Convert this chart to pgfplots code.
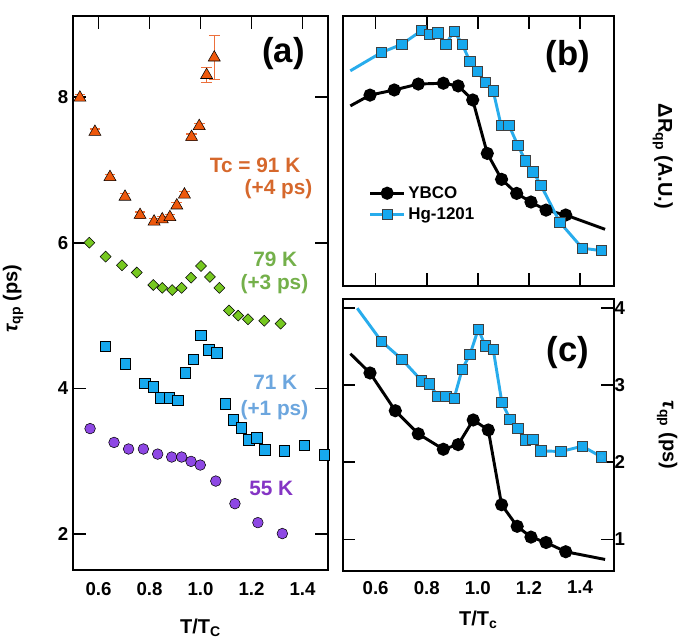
\documentclass[border=0pt]{standalone}
\usepackage{pgfplots}
\pgfplotsset{compat=1.18}
\usepackage{fontspec}
\setmainfont{Liberation Sans}

\definecolor{orM}{RGB}{238,88,12}
\definecolor{orT}{RGB}{214,104,44}
\definecolor{orE}{RGB}{236,112,60}
\definecolor{grM}{RGB}{118,200,32}
\definecolor{grT}{RGB}{116,176,74}
\definecolor{blM}{RGB}{22,168,238}
\definecolor{blT}{RGB}{108,166,222}
\definecolor{puM}{RGB}{142,72,228}
\definecolor{puT}{RGB}{132,52,196}
\definecolor{blL}{RGB}{40,172,236}

\newcommand\lab{\bfseries\fontsize{15.6}{18}\selectfont}

\pgfplotsset{
  every axis/.append style={
    scale only axis, clip=false,
    axis line style={line width=1.3pt},
    tick style={line width=1.3pt, black},
    major tick length=9.5pt, tick align=inside,
    /pgf/number format/assume math mode=true,
    tick label style={font=\bfseries\fontsize{14}{16}\selectfont},
    label style={font=\bfseries\fontsize{15}{17}\selectfont},
  },
  mk/.style={mark options={solid, draw=black!80, line width=0.5pt}},
}

\begin{document}
\begin{tikzpicture}
\path[use as bounding box] (0,0) rectangle (513.75pt,482.25pt);

% ---- (a)
\begin{axis}[
  at={(54.75pt,54.75pt)}, anchor=south west,
  width=191.25pt, height=415.5pt,
  xmin=0.5, xmax=1.5, ymin=1.51, ymax=9.11,
  xtick={0.6,0.8,1.0,1.2,1.4}, xticklabels={0.6,0.8,1.0,1.2,1.4},
  xtick pos=right, xticklabel pos=left,
  xticklabel style={yshift=-6pt},
  ytick={2,4,6,8}, ytick pos=both, yticklabel pos=left,
  xlabel={T/T\textsubscript{C}},
  xlabel style={at={(axis description cs:0.5,-0.08)}, anchor=north},
  ylabel={{\itshape τ}\textsubscript{qp} (ps)},
  ylabel style={at={(axis description cs:-0.235,0.49)}, anchor=center},
]
\addplot[only marks, mark=triangle*, mark size=5.2pt, mk, mark options={fill=orM},
  error bars/.cd, y dir=both, y explicit,
  error bar style={orE, line width=0.9pt},
  error mark options={rotate=90, mark size=4pt, orE, line width=0.9pt}]
  table[x=x, y=y, y error=e] {
x y e
0.527 7.99 0.04
0.586 7.52 0.04
0.645 6.90 0.04
0.704 6.63 0.04
0.763 6.38 0.04
0.818 6.29 0.04
0.850 6.32 0.04
0.880 6.35 0.04
0.907 6.51 0.04
0.937 6.66 0.04
0.965 7.45 0.04
0.995 7.60 0.04
1.024 8.30 0.10
1.054 8.54 0.30
};
\addplot[only marks, mark=square*, mark size=2.9pt, mk, mark options={fill=grM, rotate=45}]
  coordinates {(0.564,6.00) (0.628,5.81) (0.692,5.69) (0.750,5.59) (0.815,5.42)
  (0.850,5.38) (0.889,5.35) (0.926,5.38) (0.963,5.52) (1.002,5.68) (1.037,5.53)
  (1.074,5.38) (1.112,5.07) (1.148,5.00) (1.186,4.95) (1.250,4.93) (1.314,4.89)};
\addplot[only marks, mark=square*, mark size=4pt, mk, mark options={fill=blM}]
  coordinates {(0.627,4.58) (0.705,4.34) (0.782,4.07) (0.815,4.02) (0.845,3.87)
  (0.878,3.87) (0.910,3.84) (0.940,4.22) (0.972,4.40) (1.002,4.73) (1.032,4.53)
  (1.065,4.49) (1.097,3.79) (1.129,3.57) (1.160,3.46) (1.189,3.30) (1.220,3.32)
  (1.253,3.16) (1.329,3.15) (1.407,3.22) (1.486,3.09)};
\addplot[only marks, mark=*, mark size=4pt, mk, mark options={fill=puM}]
  coordinates {(0.567,3.45) (0.661,3.26) (0.718,3.17) (0.776,3.17) (0.832,3.10)
  (0.887,3.06) (0.926,3.06) (0.963,3.00) (0.999,2.95) (1.060,2.73) (1.135,2.42)
  (1.225,2.16) (1.321,2.01)};
\node[font=\bfseries\fontsize{26}{30}\selectfont] at (rel axis cs:0.825,0.932) {(a)};
\node[font=\lab, orT, anchor=base east] at (rel axis cs:0.91,0.718) {Tc = 91 K};
\node[font=\lab, orT, anchor=base east] at (rel axis cs:0.957,0.677) {(+4 ps)};
\node[font=\lab, grT, anchor=base east] at (rel axis cs:0.898,0.547) {79 K};
\node[font=\lab, grT, anchor=base east] at (rel axis cs:0.941,0.507) {(+3 ps)};
\node[font=\lab, blT, anchor=base east] at (rel axis cs:0.898,0.325) {71 K};
\node[font=\lab, blT, anchor=base east] at (rel axis cs:0.941,0.278) {(+1 ps)};
\node[font=\lab, puT, anchor=base east] at (rel axis cs:0.882,0.134) {55 K};
\end{axis}

% ---- (b)
\begin{axis}[
  at={(257pt,267.75pt)}, anchor=south west,
  width=203.5pt, height=202.5pt,
  xmin=0.471, xmax=1.533, ymin=0, ymax=10,
  xtick={0.6,0.8,1.0,1.2,1.4}, xticklabels={}, xtick pos=both,
  ytick=\empty,
  ylabel={ΔR\textsubscript{qp} (A.U.)},
  ylabel style={at={(axis description cs:1.18,0.48)}, anchor=center, rotate=180},
  legend style={at={(axis description cs:0.08,0.39)}, anchor=north west,
    draw=none, fill=none, font=\bfseries\fontsize{12.7}{15}\selectfont,
    row sep=1.5pt},
  legend cell align=left,
  legend image code/.code={\draw[#1, mark indices={2}] plot coordinates {(0cm,0cm) (0.45cm,0cm) (0.9cm,0cm)};},
]
\addplot[black, line width=2.2pt, mark=*, mark size=3.8pt, mark indices={2,...,13},
  mark options={solid, fill=black}]
  coordinates {(0.501,6.67) (0.578,7.07) (0.673,7.26) (0.767,7.48) (0.865,7.51)
  (0.923,7.41) (0.980,6.89) (1.037,4.91) (1.093,3.95) (1.152,3.43) (1.208,3.11)
  (1.267,2.81) (1.344,2.63) (1.498,2.10)};
\addlegendentry{YBCO}
\addplot[blL, line width=2.2pt, mark=square*, mark size=3.9pt, mark indices={2,...,22},
  mark options={solid, fill=blM, draw=black!75, line width=0.5pt}]
  coordinates {(0.501,7.97) (0.623,8.65) (0.702,8.95) (0.780,9.46) (0.810,9.32)
  (0.843,9.38) (0.875,8.96) (0.907,9.44) (0.939,8.96) (0.969,8.31) (0.999,7.94)
  (1.029,7.54) (1.060,7.23) (1.091,5.95) (1.122,5.95) (1.156,5.22) (1.187,4.63)
  (1.216,4.23) (1.247,3.73) (1.321,2.36) (1.409,1.40) (1.484,1.31)};
\addlegendentry{Hg-1201}
\node[font=\bfseries\fontsize{26}{30}\selectfont] at (rel axis cs:0.83,0.848) {(b)};
\end{axis}

% ---- (c)
\begin{axis}[
  at={(257pt,54pt)}, anchor=south west,
  width=203.5pt, height=204pt,
  xmin=0.471, xmax=1.533, ymin=0.59, ymax=4.12,
  xtick={0.6,0.8,1.0,1.2,1.4}, xticklabels={0.6,0.8,1.0,1.2,1.4},
  xtick style={draw=none},
  xticklabel style={yshift=-4pt},
  ytick={1,2,3,4}, ytick pos=both, yticklabel pos=right,
  yticklabel style={xshift=-3pt},
  xlabel={T/T\textsubscript{c}},
  xlabel style={at={(axis description cs:0.5,-0.129)}, anchor=north},
  ylabel={{\itshape τ}\textsubscript{qp} (ps)},
  ylabel style={at={(axis description cs:1.196,0.5)}, anchor=center, rotate=180},
]
\addplot[black, line width=2.2pt, mark=*, mark size=3.8pt, mark indices={2,...,13},
  mark options={solid, fill=black}]
  coordinates {(0.501,3.41) (0.578,3.16) (0.677,2.67) (0.767,2.37) (0.865,2.17)
  (0.923,2.23) (0.982,2.55) (1.041,2.42) (1.093,1.45) (1.154,1.17) (1.208,1.03)
  (1.267,0.96) (1.344,0.84) (1.498,0.74)};
\addplot[blL, line width=2.2pt, mark=square*, mark size=3.9pt, mark indices={2,...,22},
  mark options={solid, fill=blM, draw=black!75, line width=0.5pt}]
  coordinates {(0.528,4.00) (0.623,3.57) (0.702,3.34) (0.780,3.06) (0.810,3.02)
  (0.843,2.86) (0.875,2.86) (0.907,2.83) (0.939,3.21) (0.969,3.40) (1.002,3.73)
  (1.029,3.51) (1.060,3.47) (1.094,2.78) (1.126,2.56) (1.156,2.44) (1.187,2.29)
  (1.216,2.30) (1.247,2.15) (1.325,2.14) (1.409,2.21) (1.484,2.07)};
\addplot[only marks, mark=none, blL,
  error bars/.cd, y dir=both, y explicit,
  error bar style={blL, line width=1pt},
  error mark options={rotate=90, mark size=2pt, blL, line width=1pt}]
  coordinates {(1.484,2.07) +- (0,0.06)};
\node[font=\bfseries\fontsize{26}{30}\selectfont] at (rel axis cs:0.83,0.805) {(c)};
\end{axis}
\end{tikzpicture}
\end{document}
